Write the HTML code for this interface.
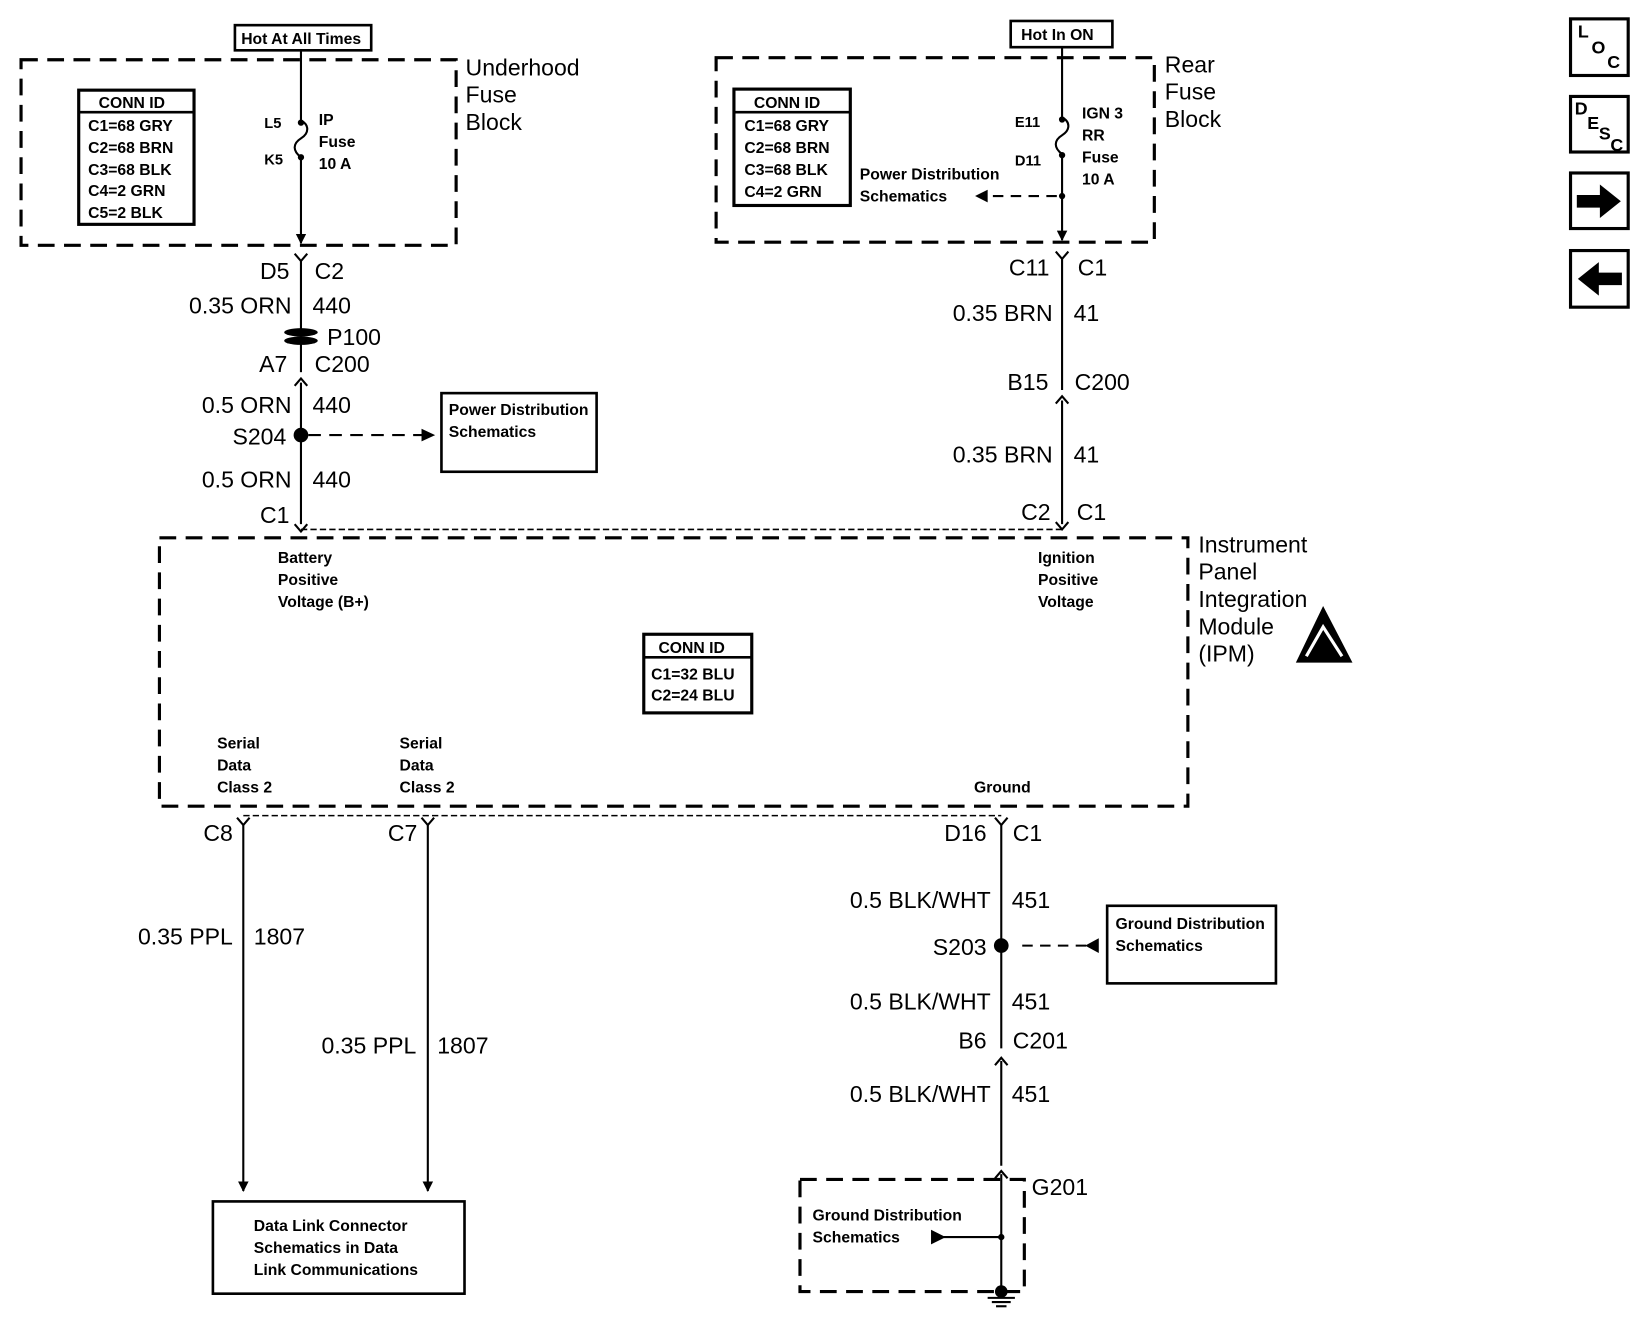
<!DOCTYPE html>
<html><head><style>html,body{margin:0;padding:0;background:#fff}svg{display:block}text{font-family:"Liberation Sans",Arial,sans-serif;fill:#000}</style></head><body>
<svg width="1644" height="1344" viewBox="0 0 1568 1282" xmlns="http://www.w3.org/2000/svg">
<defs><marker id="ah" markerWidth="10" markerHeight="10" refX="9" refY="5" orient="auto" markerUnits="userSpaceOnUse"><path d="M0,0 L10,5 L0,10 z" fill="#000"/></marker></defs>
<g fill="none" stroke="#000">
<!-- dashed boxes -->
<rect x="20" y="57" width="415" height="177" stroke-width="3" stroke-dasharray="16,9"/>
<rect x="683" y="55" width="418" height="176" stroke-width="3" stroke-dasharray="16,9"/>
<rect x="152" y="513" width="981" height="256" stroke-width="3" stroke-dasharray="16,9"/>
<rect x="763" y="1125" width="214" height="107" stroke-width="3" stroke-dasharray="16,9"/>
<line x1="287" y1="505" x2="1013" y2="505" stroke-width="1.5" stroke-dasharray="6,3"/>
<line x1="232" y1="778" x2="955" y2="778" stroke-width="1.5" stroke-dasharray="6,3"/>
<!-- solid boxes -->
<rect x="224" y="24" width="130" height="24" stroke-width="2.5"/>
<rect x="964" y="20" width="97" height="25" stroke-width="2.5"/>
<rect x="75" y="86" width="110" height="128" stroke-width="3"/><line x1="75" y1="107" x2="185" y2="107" stroke-width="2.5"/>
<rect x="700" y="85" width="111" height="111" stroke-width="3"/><line x1="700" y1="107" x2="811" y2="107" stroke-width="2.5"/>
<rect x="614" y="605" width="103" height="75" stroke-width="3"/><line x1="614" y1="627" x2="717" y2="627" stroke-width="2.5"/>
<rect x="421" y="375" width="148" height="75" stroke-width="2.5"/>
<rect x="1056" y="864" width="161" height="74" stroke-width="2.5"/>
<rect x="203" y="1146" width="240" height="88" stroke-width="2.5"/>
<!-- icons -->
<rect x="1498" y="18" width="55" height="54" stroke-width="3"/>
<rect x="1498" y="92" width="55" height="53" stroke-width="3"/>
<rect x="1498" y="165" width="55" height="53" stroke-width="3"/>
<rect x="1498" y="239" width="55" height="54" stroke-width="3"/>
<!-- left wire -->
<line x1="287" y1="48" x2="287" y2="115" stroke-width="2"/>
<path d="M287,115 c8,4 8,12 0,17 c-8,5 -8,12 0,18" stroke-width="2"/>
<line x1="287" y1="150" x2="287" y2="232" stroke-width="2" marker-end="url(#ah)"/>
<path d="M281,242 L287,249 L293,242" stroke-width="2"/>
<line x1="287" y1="249" x2="287" y2="316" stroke-width="2"/>
<line x1="287" y1="326" x2="287" y2="355" stroke-width="2"/>
<path d="M281,368 L287,361 L293,368" stroke-width="2"/>
<line x1="287" y1="365" x2="287" y2="500" stroke-width="2"/>
<path d="M281,500 L287,507 L293,500" stroke-width="2"/>
<line x1="294" y1="415" x2="410" y2="415" stroke-width="2" stroke-dasharray="12,8"/>
<!-- right wire -->
<line x1="1013" y1="45" x2="1013" y2="112" stroke-width="2"/>
<path d="M1013,112 c8,4 8,12 0,17 c-8,5 -8,12 0,18" stroke-width="2"/>
<line x1="1013" y1="147" x2="1013" y2="229" stroke-width="2" marker-end="url(#ah)"/>
<line x1="1008" y1="187" x2="940" y2="187" stroke-width="2" stroke-dasharray="10,7"/>
<path d="M1007,240 L1013,247 L1019,240" stroke-width="2"/>
<line x1="1013" y1="247" x2="1013" y2="372" stroke-width="2"/>
<path d="M1007,385 L1013,378 L1019,385" stroke-width="2"/>
<line x1="1013" y1="382" x2="1013" y2="500" stroke-width="2"/>
<path d="M1007,498 L1013,505 L1019,498" stroke-width="2"/>
<!-- bottom wires -->
<path d="M226,780 L232,787 L238,780" stroke-width="2"/>
<line x1="232" y1="787" x2="232" y2="1136" stroke-width="2" marker-end="url(#ah)"/>
<path d="M402,780 L408,787 L414,780" stroke-width="2"/>
<line x1="408" y1="787" x2="408" y2="1136" stroke-width="2" marker-end="url(#ah)"/>
<path d="M949,780 L955,787 L961,780" stroke-width="2"/>
<line x1="955" y1="787" x2="955" y2="1000" stroke-width="2"/>
<path d="M949,1016 L955,1009 L961,1016" stroke-width="2"/>
<line x1="955" y1="1012" x2="955" y2="1112" stroke-width="2"/>
<path d="M949,1124 L955,1117 L961,1124" stroke-width="2"/>
<line x1="955" y1="1120" x2="955" y2="1236" stroke-width="2"/>
<line x1="975" y1="902" x2="1040" y2="902" stroke-width="2" stroke-dasharray="10,7"/>
<line x1="900" y1="1180" x2="955" y2="1180" stroke-width="2"/>
<line x1="942" y1="1238" x2="968" y2="1238" stroke-width="2"/><line x1="946" y1="1242" x2="964" y2="1242" stroke-width="2"/><line x1="950" y1="1246" x2="960" y2="1246" stroke-width="2"/>
</g>
<g fill="#000">
<circle cx="287" cy="117" r="3"/><circle cx="287" cy="150" r="3"/>
<circle cx="1013" cy="114" r="3"/><circle cx="1013" cy="148" r="3"/><circle cx="1013" cy="187" r="3"/>
<circle cx="287" cy="415" r="7"/><circle cx="955" cy="902" r="7"/><circle cx="955" cy="1180" r="3"/><circle cx="955" cy="1232" r="6"/>
<path d="M402,409 L415,415 L402,421z"/>
<path d="M942,181 L930,187 L942,193z"/>
<path d="M1048,895 L1035,902 L1048,909z"/>
<path d="M888,1173 L902,1180 L888,1187z"/>
<ellipse cx="287" cy="317" rx="16" ry="4"/><ellipse cx="287" cy="325" rx="16" ry="4"/>
<path d="M1236,632 L1262,578 L1290,632z"/>
<path d="M1504,186 h22 v-10 l20,16 l-20,16 v-10 h-22z"/>
<path d="M1547,260 h-22 v-10 l-20,16 l20,16 v-10 h22z"/>
</g>
<path d="M1246,626 L1262,598 L1280,626" fill="none" stroke="#fff" stroke-width="3"/>
<g font-size="15" font-weight="bold">
<text x="230" y="42">Hot At All Times</text>
<text x="974" y="38">Hot In ON</text>
<text x="94" y="103">CONN ID</text>
<text x="84" y="125">C1=68 GRY</text><text x="84" y="146">C2=68 BRN</text><text x="84" y="167">C3=68 BLK</text><text x="84" y="187">C4=2 GRN</text><text x="84" y="208">C5=2 BLK</text>
<text x="719" y="103">CONN ID</text>
<text x="710" y="125">C1=68 GRY</text><text x="710" y="146">C2=68 BRN</text><text x="710" y="167">C3=68 BLK</text><text x="710" y="188">C4=2 GRN</text>
<text x="628" y="623">CONN ID</text>
<text x="621" y="648">C1=32 BLU</text><text x="621" y="668">C2=24 BLU</text>
<text x="252" y="122" font-size="14">L5</text><text x="252" y="157" font-size="14">K5</text>
<text x="304" y="119">IP</text><text x="304" y="140">Fuse</text><text x="304" y="161">10 A</text>
<text x="968" y="121" font-size="14">E11</text><text x="968" y="158" font-size="14">D11</text>
<text x="1032" y="113">IGN 3</text><text x="1032" y="134">RR</text><text x="1032" y="155">Fuse</text><text x="1032" y="176">10 A</text>
<text x="820" y="171">Power Distribution</text><text x="820" y="192">Schematics</text>
<text x="428" y="396">Power Distribution</text><text x="428" y="417">Schematics</text>
<text x="265" y="537">Battery</text><text x="265" y="558">Positive</text><text x="265" y="579">Voltage (B+)</text>
<text x="990" y="537">Ignition</text><text x="990" y="558">Positive</text><text x="990" y="579">Voltage</text>
<text x="207" y="714">Serial</text><text x="207" y="735">Data</text><text x="207" y="756">Class 2</text>
<text x="381" y="714">Serial</text><text x="381" y="735">Data</text><text x="381" y="756">Class 2</text>
<text x="929" y="756">Ground</text>
<text x="1064" y="886">Ground Distribution</text><text x="1064" y="907">Schematics</text>
<text x="775" y="1164">Ground Distribution</text><text x="775" y="1185">Schematics</text>
<text x="242" y="1174">Data Link Connector</text><text x="242" y="1195">Schematics in Data</text><text x="242" y="1216">Link Communications</text>
</g>
<g font-size="22">
<text x="444" y="72">Underhood</text><text x="444" y="98">Fuse</text><text x="444" y="124">Block</text>
<text x="1111" y="69">Rear</text><text x="1111" y="95">Fuse</text><text x="1111" y="121">Block</text>
<text x="1143" y="527">Instrument</text><text x="1143" y="553">Panel</text><text x="1143" y="579">Integration</text><text x="1143" y="605">Module</text><text x="1143" y="631">(IPM)</text>
</g>
<g font-size="22" text-anchor="end">
<text x="276" y="266">D5</text><text x="278" y="299">0.35 ORN</text><text x="274" y="355">A7</text><text x="278" y="394">0.5 ORN</text><text x="273" y="424">S204</text><text x="278" y="465">0.5 ORN</text><text x="276" y="499">C1</text>
<text x="1001" y="263">C11</text><text x="1004" y="306">0.35 BRN</text><text x="1000" y="372">B15</text><text x="1004" y="441">0.35 BRN</text><text x="1002" y="496">C2</text>
<text x="222" y="802">C8</text><text x="398" y="802">C7</text><text x="222" y="901">0.35 PPL</text><text x="397" y="1005">0.35 PPL</text>
<text x="941" y="802">D16</text><text x="945" y="866">0.5 BLK/WHT</text><text x="941" y="911">S203</text><text x="945" y="963">0.5 BLK/WHT</text><text x="941" y="1000">B6</text><text x="945" y="1051">0.5 BLK/WHT</text>
</g>
<g font-size="22">
<text x="300" y="266">C2</text><text x="298" y="299">440</text><text x="312" y="329">P100</text><text x="300" y="355">C200</text><text x="298" y="394">440</text><text x="298" y="465">440</text>
<text x="1028" y="263">C1</text><text x="1024" y="306">41</text><text x="1025" y="372">C200</text><text x="1024" y="441">41</text><text x="1027" y="496">C1</text>
<text x="242" y="901">1807</text><text x="417" y="1005">1807</text>
<text x="966" y="802">C1</text><text x="965" y="866">451</text><text x="965" y="963">451</text><text x="966" y="1000">C201</text><text x="965" y="1051">451</text><text x="984" y="1140">G201</text>
</g>
<g font-size="17" font-weight="bold">
<text x="1505" y="36">L</text><text x="1518" y="51">O</text><text x="1533" y="65">C</text>
<text x="1502" y="109">D</text><text x="1514" y="123">E</text><text x="1525" y="133">S</text><text x="1536" y="144">C</text>
</g>
</svg>
</body></html>
